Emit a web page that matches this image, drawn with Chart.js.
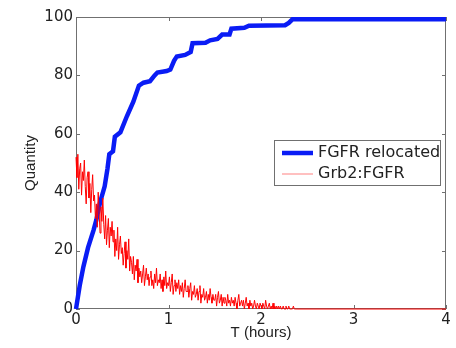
<!DOCTYPE html>
<html><head><meta charset="utf-8">
<script src="https://cdn.jsdelivr.net/npm/chart.js@4/dist/chart.umd.min.js"></script>
<style>html,body{margin:0;padding:0;background:#fff}#wrap{width:456px;height:348px}</style>
</head><body>
<div id="wrap"><canvas id="c"></canvas></div>
<script>
const seriesNames = ['FGFR relocated', 'Grb2:FGFR'];
const xTicks = [0, 1, 2, 3, 4];
const yTicks = [0, 20, 40, 60, 80, 100];
const xTitle = 'T (hours)';
const yTitle = 'Quantity';

// FGFR relocated trajectory (time in hours, value)
const relocTimes = [0, 0.04, 0.08, 0.13, 0.19, 0.22, 0.26, 0.31, 0.34, 0.36, 0.40, 0.42, 0.48, 0.55, 0.62, 0.68, 0.73, 0.80, 0.85, 0.88, 0.98, 1.02, 1.06, 1.09, 1.18, 1.24, 1.26, 1.40, 1.45, 1.53, 1.58, 1.66, 1.68, 1.82, 1.87, 2.26, 2.30, 2.34, 4.00];
const relocValues = [0, 8, 14.5, 21, 27, 30.5, 36.5, 42, 48, 53, 54, 59, 60.5, 66, 71, 76.5, 77.5, 78, 80, 81, 81.5, 82, 85, 86.5, 87, 88, 91, 91.2, 92, 92.5, 94, 94, 96, 96.3, 97, 97.2, 98, 99.2, 99.2];

// Grb2:FGFR: sampled every 0.01 h from 0 to 2.39
const grbStep = 0.01;
const grbValues = [
 52, 45, 53, 41, 48, 50, 39, 47, 44, 51,
 42, 36, 45, 47, 38, 43, 33, 41, 46, 37,
 39, 31, 36, 28, 40, 33, 26, 35, 30, 38,
 29, 24, 32, 22, 27, 31, 21, 28, 25, 30,
 23, 27, 18, 24, 20, 28, 17, 22, 25, 19,
 21, 15, 19, 23, 14, 20, 17, 24, 13, 18,
 16, 12, 18, 10, 15, 13, 17, 9, 14, 11,
 13, 9, 12, 15, 8, 11, 14, 10, 12, 8,
 11, 13, 8, 10, 7, 12, 9, 14, 8, 10,
 9, 12, 7, 10, 6, 11, 8, 13, 7, 9,
 8, 11, 6, 9, 12, 5, 8, 10, 6, 9,
 7, 10, 5, 8, 6, 9, 4, 7, 10, 6,
 6, 8, 4, 7, 9, 3, 6, 5, 8, 4,
 5, 7, 3, 6, 8, 2, 5, 4, 7, 3,
 4, 6, 2, 5, 3, 7, 4, 2, 5, 3,
 3, 5, 1, 4, 6, 2, 3, 5, 1, 4,
 2, 4, 3, 1, 5, 2, 3, 1, 4, 2,
 3, 1, 4, 2, 0, 3, 5, 1, 2, 3,
 1, 3, 0, 2, 4, 1, 2, 0, 3, 1,
 2, 0, 1, 3, 1, 0, 2, 1, 0, 2,
 1, 0, 2, 1, 0, 3, 1, 0, 1, 2,
 0, 1, 0, 2, 0, 1, 0, 1, 0, 1,
 0, 1, 0, 0, 1, 0, 0, 1, 0, 0,
 1, 0, 0, 0, 0, 1, 0, 0, 0, 0
];
// Grb2:FGFR after 2.4 h (stays at zero)
const grbTailTimes = [2.4, 4.0];
const grbTailValues = [0, 0];

const relocData = relocTimes.map((t, i) => ({x: t, y: relocValues[i]}));
const grbData = grbValues.map((v, i) => ({x: +(i * grbStep).toFixed(2), y: v}))
  .concat(grbTailTimes.map((t, i) => ({x: t, y: grbTailValues[i]})));

const AXIS_COLOR = '#707070';
const TEXT_COLOR = '#222222';
const FONT = 'DejaVu Sans';
const TITLE_FONT = 'Liberation Sans';

const boxPlugin = {
  id: 'matlabBox',
  beforeDatasetsDraw(chart) {
    const {ctx, chartArea: a, scales} = chart;
    ctx.save();
    ctx.strokeStyle = AXIS_COLOR;
    ctx.lineWidth = 1;
    ctx.strokeRect(Math.round(a.left) + 0.5, Math.round(a.top) + 0.5, Math.round(a.right - a.left) - 1, Math.round(a.bottom - a.top) - 1);
    const tl = 4;
    ctx.beginPath();
    xTicks.forEach(v => {
      const px = Math.round(scales.x.getPixelForValue(v)) + 0.5;
      ctx.moveTo(px, a.bottom); ctx.lineTo(px, a.bottom - tl);
      ctx.moveTo(px, a.top); ctx.lineTo(px, a.top + tl);
    });
    yTicks.forEach(v => {
      const py = Math.round(scales.y.getPixelForValue(v)) + 0.5;
      ctx.moveTo(a.left, py); ctx.lineTo(a.left + tl, py);
      ctx.moveTo(a.right, py); ctx.lineTo(a.right - tl, py);
    });
    ctx.stroke();
    ctx.restore();
  }
};

const legendPlugin = {
  id: 'boxLegend',
  afterDatasetsDraw(chart) {
    const {ctx, chartArea: a} = chart;
    const ds = chart.data.datasets;
    const right = a.right - 5, left = right - 167, top = 140, bottom = 186;
    ctx.save();
    ctx.fillStyle = '#ffffff';
    ctx.fillRect(left, top, right - left, bottom - top);
    ctx.strokeStyle = AXIS_COLOR;
    ctx.lineWidth = 1;
    ctx.strokeRect(left + 0.5, top + 0.5, right - left - 1, bottom - top - 1);
    ctx.font = '16px "' + FONT + '"';
    ctx.textBaseline = 'middle';
    ctx.textAlign = 'left';
    const rows = [153, 174];
    ds.forEach((d, i) => {
      const y = rows[i];
      ctx.strokeStyle = d.borderColor;
      ctx.lineWidth = d.legendLineWidth;
      ctx.beginPath();
      ctx.moveTo(left + 8, y); ctx.lineTo(left + 39, y);
      ctx.stroke();
      ctx.fillStyle = TEXT_COLOR;
      ctx.fillText(d.label, left + 44, y);
    });
    ctx.restore();
  }
};

new Chart(document.getElementById('c'), {
  type: 'scatter',
  data: {
    datasets: [
      {label: seriesNames[0], data: relocData, showLine: true, borderColor: '#0a1cf5', backgroundColor: '#0a1cf5', borderWidth: 4.5, borderJoinStyle: 'miter', pointRadius: 0, order: 2, clip: 4, legendLineWidth: 4.5},
      {label: seriesNames[1], data: grbData, showLine: true, borderColor: '#ff0000', backgroundColor: '#ff0000', borderWidth: 1, pointRadius: 0, order: 1, clip: 4, legendLineWidth: 0.5}
    ]
  },
  options: {
    responsive: true,
    maintainAspectRatio: false,
    animation: false,
    layout: {padding: {left: 0, right: 10, top: 17, bottom: 0}},
    plugins: {legend: {display: false}, tooltip: {enabled: false}},
    scales: {
      x: {
        type: 'linear', min: 0, max: 4,
        afterFit(s) { s.height = 39; },
        afterBuildTicks(s) { s.ticks = xTicks.map(v => ({value: v})); },
        grid: {display: false, drawTicks: false},
        border: {display: false},
        ticks: {padding: 2, color: TEXT_COLOR, font: {family: FONT, size: 15}, maxRotation: 0},
        title: {display: true, text: xTitle, color: TEXT_COLOR, font: {family: TITLE_FONT, size: 15}, padding: {top: 0, bottom: 6}}
      },
      y: {
        type: 'linear', min: 0, max: 100,
        afterFit(s) { s.width = 76; },
        afterBuildTicks(s) { s.ticks = yTicks.map(v => ({value: v})); },
        grid: {display: false, drawTicks: false},
        border: {display: false},
        ticks: {padding: 3, color: TEXT_COLOR, font: {family: FONT, size: 15}},
        title: {display: true, text: yTitle, color: TEXT_COLOR, font: {family: TITLE_FONT, size: 15}, padding: {top: 22, bottom: 0}}
      }
    }
  },
  plugins: [boxPlugin, legendPlugin]
});
</script>
</body></html>
